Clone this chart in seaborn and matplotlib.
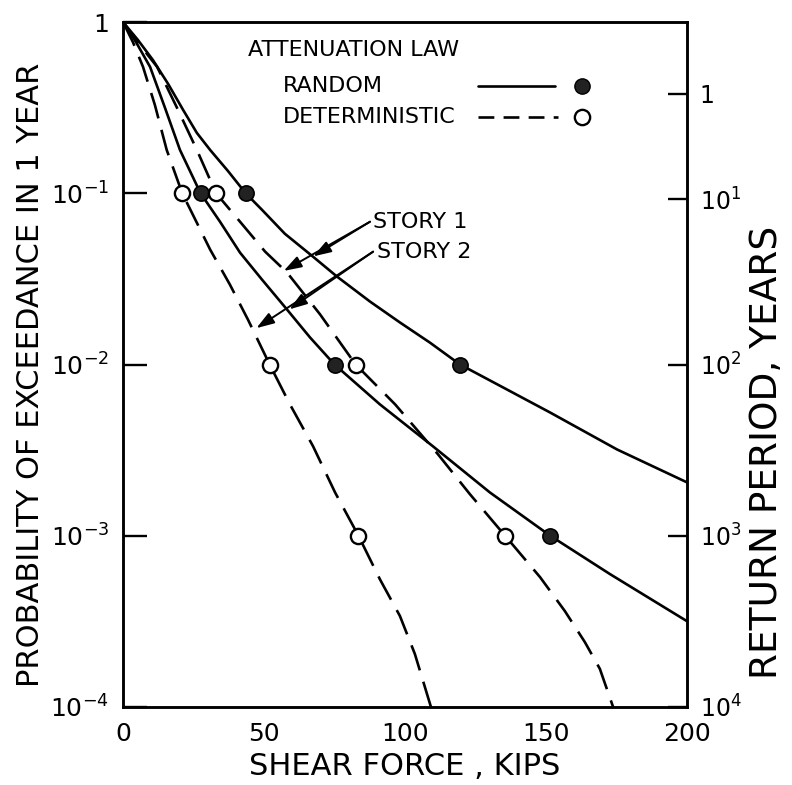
import matplotlib
matplotlib.use("Agg")
import matplotlib.pyplot as plt
from matplotlib.ticker import NullLocator, FixedLocator, FixedFormatter
import pandas as pd
import seaborn as sns

# ---------------- data ----------------
shear_s1_random = [0, 5.3, 10.6, 16.0, 21.3, 26.2, 30.9, 37.2, 43.5, 49.3, 57.4, 67.4,
                   75.9, 87.6, 98.2, 108.9, 119.5, 135.5, 151.4, 175.2, 200]
prob_s1_random = [1.0, 0.785, 0.600, 0.435, 0.307, 0.225, 0.179, 0.135, 0.100, 0.080,
                  0.058, 0.0426, 0.0326, 0.0233, 0.0176, 0.0134, 0.0100, 0.00724,
                  0.00525, 0.00319, 0.00205]

shear_s2_random = [0, 4.6, 9.6, 14.9, 20.2, 27.5, 34.4, 41.5, 49.3, 58.2, 66.3, 75.0,
                   91.1, 109.9, 130.1, 151.5, 172.7, 200]
prob_s2_random = [1.0, 0.764, 0.547, 0.315, 0.179, 0.100, 0.0682, 0.045, 0.0313, 0.0209,
                  0.0144, 0.0100, 0.00585, 0.00333, 0.00179, 0.00100, 0.000597, 0.000317]

shear_s1_det = [0, 6.0, 12.1, 19.5, 26.2, 33.0, 41.5, 50.4, 58.2, 69.9, 82.5, 96.5,
                111.7, 123.0, 135.5, 147.9, 156.7, 163.8, 169.1, 173.8]
prob_s1_det = [1.0, 0.734, 0.547, 0.307, 0.179, 0.100, 0.0682, 0.0456, 0.0344, 0.0196,
               0.0100, 0.00585, 0.00299, 0.00175, 0.00100, 0.000573, 0.000363,
               0.000239, 0.000167, 0.0001]

shear_s2_det = [0, 3.5, 7.1, 11.3, 15.5, 21.0, 30.9, 37.9, 44.3, 52.0, 59.2, 67.4,
                75.2, 83.5, 91.1, 98.2, 103.5, 109.2]
prob_s2_det = [1.0, 0.764, 0.547, 0.328, 0.179, 0.100, 0.0469, 0.0293, 0.0183, 0.0100,
               0.00585, 0.00333, 0.00179, 0.00100, 0.000557, 0.00034, 0.000204, 0.0001]

# return-period points marked on the curves
marker_shear_random = [43.5, 119.5, 27.5, 75.0, 151.5]
marker_prob_random = [0.1, 0.01, 0.1, 0.01, 0.001]
marker_shear_det = [33.0, 82.5, 135.5, 21.0, 52.0, 83.5]
marker_prob_det = [0.1, 0.01, 0.001, 0.1, 0.01, 0.001]

x_ticks = [0, 50, 100, 150, 200]
y_ticks = [1, 1e-1, 1e-2, 1e-3, 1e-4]
y_tick_labels = ["1", r"$10^{-1}$", r"$10^{-2}$", r"$10^{-3}$", r"$10^{-4}$"]
rp_ticks = [0.38, 0.092, 0.01, 0.001, 0.0001]
rp_tick_labels = ["1", r"$10^{1}$", r"$10^{2}$", r"$10^{3}$", r"$10^{4}$"]

law_labels = ["RANDOM", "DETERMINISTIC"]
story_labels = ["STORY 1", "STORY 2"]
# arrows: tail (text anchor), mid target (random curve), tip target (deterministic curve)
arrow_tail = [(87.6, 0.0682), (88.7, 0.0456)]
arrow_mid = [(67.5, 0.0428), (59.0, 0.0210)]
arrow_tip = [(57.0, 0.0352), (47.3, 0.0163)]

# ---------------- build tables ----------------
rows = []
for story, law, xs, ps in [("1", "RANDOM", shear_s1_random, prob_s1_random),
                           ("2", "RANDOM", shear_s2_random, prob_s2_random),
                           ("1", "DETERMINISTIC", shear_s1_det, prob_s1_det),
                           ("2", "DETERMINISTIC", shear_s2_det, prob_s2_det)]:
    for x, p in zip(xs, ps):
        rows.append({"shear": x, "prob": p, "curve": story + law, "law": law})
curves = pd.DataFrame(rows)
mk_random = pd.DataFrame({"shear": marker_shear_random, "prob": marker_prob_random})
mk_det = pd.DataFrame({"shear": marker_shear_det, "prob": marker_prob_det})

# ---------------- style ----------------
sns.set_style("white")
plt.rcParams["font.family"] = ["DejaVu Sans"]
plt.rcParams["mathtext.fontset"] = "dejavusans"
plt.rcParams["mathtext.default"] = "regular"
for key in ["text.color", "axes.labelcolor", "xtick.color", "ytick.color",
            "axes.edgecolor"]:
    plt.rcParams[key] = "black"

LW = 1.9
DASH = (10, 4.5)

fig = plt.figure(figsize=(7.92, 7.85), dpi=100)
ax = fig.add_axes([123 / 792, 1 - 707 / 785, 564 / 792, 685 / 785])
ax.set_yscale("log")

sns.lineplot(data=curves, x="shear", y="prob", units="curve", estimator=None, sort=False,
             style="law", dashes={"RANDOM": "", "DETERMINISTIC": DASH},
             color="black", linewidth=LW, legend=False, ax=ax)
sns.scatterplot(data=mk_random, x="shear", y="prob", marker="o", s=120,
                color="#222222", edgecolor="black", linewidth=1.2, zorder=5, ax=ax)
sns.scatterplot(data=mk_det, x="shear", y="prob", marker="o", s=120,
                color="white", edgecolor="black", linewidth=1.7, zorder=5, ax=ax)

ax.set_xlim(0, 200)
ax.set_ylim(1e-4, 1)
ax.xaxis.set_major_locator(FixedLocator(x_ticks))
ax.yaxis.set_major_locator(FixedLocator(y_ticks))
ax.yaxis.set_major_formatter(FixedFormatter(y_tick_labels))
ax.yaxis.set_minor_locator(NullLocator())
ax.tick_params(axis="both", which="major", direction="in", width=1.7, colors="black",
               labelsize=18)
ax.tick_params(axis="y", length=17, pad=10)
ax.tick_params(axis="x", length=15, pad=11)
for sp in ax.spines.values():
    sp.set_linewidth(1.8)
    sp.set_color("black")

ax.set_xlabel("SHEAR FORCE , KIPS", fontsize=22, labelpad=4)
ax.set_ylabel("PROBABILITY OF EXCEEDANCE IN 1 YEAR", fontsize=22)
ax.yaxis.set_label_coords(-0.138, 0.485)

ax2 = ax.twinx()
ax2.set_yscale("log")
ax2.set_ylim(1e-4, 1)
ax2.yaxis.set_major_locator(FixedLocator(rp_ticks))
ax2.yaxis.set_major_formatter(FixedFormatter(rp_tick_labels))
ax2.yaxis.set_minor_locator(NullLocator())
ax2.tick_params(axis="y", direction="in", length=14, width=1.7, pad=9, labelsize=17,
                colors="black")
for sp in ax2.spines.values():
    sp.set_linewidth(1.8)
    sp.set_color("black")
ax2.set_ylabel("RETURN PERIOD, YEARS", fontsize=27)
ax2.yaxis.set_label_coords(1.11, 0.372)

# ---------------- legend (drawn as in the original figure) ----------------
ax.text(0.2216, 0.959, "ATTENUATION LAW", transform=ax.transAxes, fontsize=16,
        ha="left", va="center")
legend_rows_y = [0.906, 0.862]
ax.text(0.2837, legend_rows_y[0], law_labels[0], transform=ax.transAxes, fontsize=16,
        ha="left", va="center")
ax.text(0.2837, legend_rows_y[1], law_labels[1], transform=ax.transAxes, fontsize=16,
        ha="left", va="center")
ax.plot([0.6294, 0.766], [legend_rows_y[0]] * 2, transform=ax.transAxes, color="black",
        lw=LW)
ax.plot([0.6294, 0.771], [legend_rows_y[1]] * 2, transform=ax.transAxes, color="black",
        lw=LW, dashes=(6, 3.5))
ax.plot([0.8138], [legend_rows_y[0]], transform=ax.transAxes, marker="o", ms=11,
        mfc="#222222", mec="black", ls="none")
ax.plot([0.8138], [legend_rows_y[1]], transform=ax.transAxes, marker="o", ms=11,
        mfc="white", mec="black", mew=1.7, ls="none")

# ---------------- story annotations ----------------
arrow_kw = dict(arrowstyle="-|>,head_length=0.6,head_width=0.2", color="black", lw=1.4,
                mutation_scale=18, shrinkA=0, shrinkB=0)
for label, tail, mid, tip in zip(story_labels, arrow_tail, arrow_mid, arrow_tip):
    ax.annotate("", xy=mid, xytext=tail, arrowprops=arrow_kw)
    ax.annotate("", xy=tip, xytext=tail, arrowprops=arrow_kw)
    ax.text(tail[0] + 1.2, tail[1], label, fontsize=16, ha="left", va="center")

fig.savefig("out.png", dpi=100)
